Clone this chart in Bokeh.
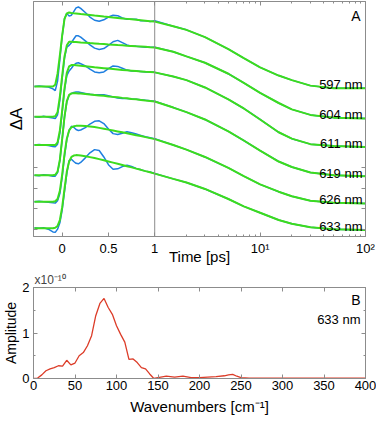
import numpy as np
from bokeh.plotting import figure
from bokeh.layouts import column
from bokeh.models import (Range1d, LinearAxis, FixedTicker, CustomJSTickFormatter,
                          Span, Label)
from bokeh.embed import file_html
from bokeh.resources import INLINE

FONT = "Liberation Sans"
FRAME = "#8c8c8c"
BLUE = "#1e7fe0"
GREEN = "#3cdc1e"
RED = "#dc3c28"

# ---------------- Panel A: kinetic traces (Delta A, arbitrary units) ----------------
time_ps = [-0.3, -0.25, -0.2, -0.15, -0.1, -0.075, -0.05, -0.025, 0.0, 0.025, 0.05,
           0.075, 0.1, 0.125, 0.15, 0.175, 0.2, 0.25, 0.3, 0.35, 0.4, 0.45, 0.5,
           0.55, 0.6, 0.65, 0.7, 0.75, 0.8, 0.85, 0.9, 0.95, 1.0,
           1.5, 2, 3, 5, 7, 10, 15, 20, 30, 50, 100]

probe_labels = ["597 nm", "604 nm", "611 nm", "619 nm", "626 nm", "633 nm"]
trace_offsets = [156, 123, 92, 59, 30, 1]

fit_597 = [0, 0, 0, 0, 0, 2, 14, 34, 56, 74, 80, 81, 80.5, 80.2, 80, 79.7, 79.4, 78.9,
           78.3, 77.7, 77.2, 76.6, 76.1, 75.5, 75, 74.5, 74, 73.5, 73, 72.5, 72, 71.5, 71,
           66, 62, 54, 41, 31, 21, 12, 7, 1, -2, -2]
fit_604 = [0, 0, 0, 0, 0, 0.5, 5, 22, 45, 66, 78, 82, 82, 81.8, 81.6, 81.4, 81.2, 80.9,
           80.5, 80.2, 79.8, 79.5, 79.1, 78.8, 78.4, 78.1, 77.7, 77.4, 77, 76.7, 76.4, 76, 75.7,
           71, 66, 59, 47, 37, 26, 15, 8, 2, -1, -2]
fit_611 = [0, 0, 0, 0, 0, 0, 3, 16, 38, 62, 79, 86, 87.5, 87.5, 87.3, 87.1, 86.8, 86.3,
           85.7, 85.1, 84.6, 84.1, 83.6, 83.1, 82.6, 82.1, 81.7, 81.3, 80.9, 80.5, 80.1, 79.8, 79.5,
           75, 71, 63, 50, 40, 28, 14, 7, 1, -1, -2]
fit_619 = [0, 0, 0, 0, 0, 0.5, 4, 17, 40, 64, 81, 88, 89.5, 89.8, 89.7, 89.5, 89.3, 88.8,
           88.3, 87.8, 87.3, 86.8, 86.2, 85.7, 85.2, 84.6, 84.1, 83.5, 83, 82.4, 81.8, 81.3, 80.7,
           74, 69, 61, 48, 38, 27, 15, 9, 3, 0, -1]
fit_626 = [0, 0, 0, 0, 0, 0.5, 3, 12, 30, 52, 69, 78, 81.5, 82.5, 83, 83, 83, 82.8,
           82.4, 81.7, 80.8, 79.9, 78.9, 77.9, 76.9, 75.9, 74.9, 73.9, 72.8, 71.8, 70.7, 69.6, 68.5,
           62, 57, 49, 37, 28, 19, 11, 6, 1, -1, -2]
fit_633 = [0, 0, 0, 0, 0, 0.5, 2.5, 9, 23, 43, 62, 73, 78, 79.5, 80, 79.8, 79.5, 78.8,
           77.8, 76.8, 75.6, 74.4, 73.1, 71.8, 70.5, 69.2, 67.9, 66.6, 65.2, 63.9, 62.5, 61.2, 59.8,
           54, 50, 43, 32, 24, 17, 9, 5, 1, -1, -2]

# measured data up to 1 ps (beyond it the data lie on the fit)
data_597 = [0, 0.5, 0, -0.5, -2.5, -4.5, 6, 30, 55, 74, 80, 77, 78, 82, 86, 87, 85.5, 81,
            76, 72.5, 71.5, 73, 76, 78, 77.5, 75, 73.5, 73.5, 73.5, 72, 72, 71, 72]
data_604 = [0, -0.5, 0.5, -0.5, -1.5, -2, 2, 18, 42, 64, 76, 78, 81, 85, 88.5, 88.5, 87, 83,
            78.5, 75, 73.5, 74.5, 78, 82, 83.5, 81, 78.5, 77, 77, 76.5, 76, 76, 76]
data_611 = [0, 0.5, 0, -0.5, -1.5, -2, 1, 13, 36, 60, 76, 81, 84, 87.5, 89.5, 90, 89, 86.5,
            83, 80, 79, 80, 83.5, 86.5, 86, 84, 82, 81, 81, 80.5, 80, 80, 79.5]
data_619 = [0, -0.5, 0.5, 0, -1, -1, 3, 16, 39, 63, 80, 87.5, 89.5, 90.5, 91, 91, 90.5, 89.5,
            88.5, 88, 88, 88, 87, 85.5, 84.5, 84, 84, 83.5, 83, 82.5, 82, 81.5, 81]
data_626 = [0, 0.5, 0, -0.5, -1, -1.5, 1, 9, 27, 50, 68, 78, 82.5, 81.5, 79, 78, 78.5, 81,
            85, 88, 88.5, 85.5, 79.5, 74.5, 73.5, 75, 76.5, 75.5, 74, 72.5, 71, 70, 69]
data_633 = [0.5, 0, 0.5, -1, -4, -4.5, -1, 6, 20, 40, 60, 74, 75.5, 73, 71, 70.5, 72, 77,
            82.5, 86, 85, 78, 69.5, 64.5, 65, 67.5, 69, 67.5, 65.5, 64, 62.5, 61.5, 60]

fits = [fit_597, fit_604, fit_611, fit_619, fit_626, fit_633]
datas = [data_597, data_604, data_611, data_619, data_626, data_633]

time_major = [0, 0.5, 1, 10, 100]
time_major_labels = ["0", "0.5", "1", "10\u00b9", "10\u00b2"]
time_minor = [2, 3, 4, 5, 6, 7, 8, 9, 20, 30, 40, 50, 60, 70, 80, 90]
dA_ticks = [0, 22.5, 45, 67.5]

# ---------------- Panel B: Fourier amplitude spectrum at 633 nm ----------------
wavenumber = [0, 5, 10, 15, 20, 25, 30, 35, 40, 45, 50, 55, 60, 65, 70, 75, 80, 85, 90, 95,
              100, 105, 110, 115, 120, 125, 130, 135, 140, 145, 150, 160, 170, 180, 190, 200,
              210, 220, 230, 235, 240, 245, 250, 260, 280, 300, 320, 340, 360, 380, 400]
amplitude = [0, 0.01, 0.08, 0.17, 0.21, 0.24, 0.28, 0.27, 0.40, 0.30, 0.34, 0.50, 0.57, 0.72,
             0.94, 1.38, 1.65, 1.76, 1.56, 1.41, 1.16, 0.97, 0.80, 0.42, 0.43, 0.35, 0.24, 0.21,
             0.10, 0.0, 0.02, 0.05, 0.03, 0.05, 0.02, 0.02, 0.03, 0.04, 0.06, 0.08, 0.09, 0.05,
             0.02, 0.01, 0.01, 0.01, 0.01, 0.01, 0.01, 0.01, 0.01]
wn_ticks = [0, 50, 100, 150, 200, 250, 300, 350, 400]
amp_ticks = [0, 1, 2]
amp_minor = [0.5, 1.5]

# split time axis: linear up to 1 ps, logarithmic beyond
DECADE = 110.5 / 97.0


def split_axis(t):
    t = np.asarray(t, dtype=float)
    return np.where(t <= 1.0, t, 1.0 + DECADE * np.log10(np.clip(t, 1.0, None)))


def label_formatter(pos, labels):
    return CustomJSTickFormatter(args=dict(pos=[float(v) for v in pos], lab=labels), code="""
        for (let i = 0; i < pos.length; i++) {
            if (Math.abs(tick - pos[i]) < 1e-6) { return lab[i]; }
        }
        return "";
    """)


def blank_formatter():
    return CustomJSTickFormatter(code="return '';")


def style_axis(ax, labels=True):
    ax.axis_line_color = FRAME
    ax.major_tick_line_color = FRAME
    ax.minor_tick_line_color = FRAME
    ax.major_tick_in = 4
    ax.major_tick_out = 0
    ax.minor_tick_in = 2
    ax.minor_tick_out = 0
    ax.major_label_text_font = FONT
    ax.major_label_text_color = "black"
    ax.axis_label_text_font = FONT
    ax.axis_label_text_font_style = "normal"
    ax.axis_label_text_color = "black"
    if labels:
        ax.major_label_text_font_size = "13px"
    else:
        ax.major_label_text_font_size = "0px"
        ax.major_label_standoff = 0
        ax.formatter = blank_formatter()


W = 376
ML, MR = 28, 11

# ---------------- figure A ----------------
xA = split_axis(time_ps)
pA = figure(width=W, height=267, output_backend="svg", toolbar_location=None,
            x_range=Range1d(-0.31, float(split_axis(100))), y_range=Range1d(-8, 249),
            min_border_left=ML, min_border_right=MR, min_border_top=1, min_border_bottom=25)
pA.grid.visible = False
pA.outline_line_color = FRAME

tA = FixedTicker(ticks=list(split_axis(time_major)), minor_ticks=list(split_axis(time_minor)))
yA = FixedTicker(ticks=dA_ticks, minor_ticks=[])

ax = pA.xaxis[0]
ax.ticker = tA
ax.formatter = label_formatter(split_axis(time_major), time_major_labels)
style_axis(ax)
ax.major_label_standoff = 4
ax.axis_label = "Time [ps]"
ax.axis_label_text_font_size = "15px"
ax.axis_label_standoff = -11

ay = pA.yaxis[0]
ay.ticker = yA
style_axis(ay, labels=False)
ay.axis_label = "\u0394A"
ay.axis_label_text_font_size = "17px"
ay.axis_label_standoff = 8

top = LinearAxis(ticker=tA)
style_axis(top, labels=False)
pA.add_layout(top, "above")
right = LinearAxis(ticker=yA)
style_axis(right, labels=False)
pA.add_layout(right, "right")

pA.add_layout(Span(location=1.0, dimension="height", line_color=FRAME, line_width=1))

n_early = len(data_597)
for off, fit, dat in zip(trace_offsets, fits, datas):
    yfit = [off + v for v in fit]
    ydat = [off + v for v in dat] + yfit[n_early:]
    pA.line(xA, ydat, line_color=BLUE, line_width=1.5)
for off, fit in zip(trace_offsets, fits):
    pA.line(xA, [off + v for v in fit], line_color=GREEN, line_width=2)

xr = float(split_axis(100))
for off, lbl in zip(trace_offsets, probe_labels):
    pA.add_layout(Label(x=xr, y=off + 2, x_offset=-3, text=lbl, text_align="right",
                        text_baseline="alphabetic", text_font=FONT, text_font_size="13px",
                        text_color="black"))
pA.add_layout(Label(x=xr, y=249, x_offset=-5, y_offset=-6, text="A", text_align="right",
                    text_baseline="top", text_font=FONT, text_font_size="14px",
                    text_color="black"))

# ---------------- figure B ----------------
pB = figure(width=W, height=150, output_backend="svg", toolbar_location=None,
            x_range=Range1d(0, 400), y_range=Range1d(0, 2), title="x10\u207b\u00b9\u2070",
            min_border_left=ML, min_border_right=MR, min_border_top=20, min_border_bottom=39)
pB.grid.visible = False
pB.outline_line_color = FRAME
pB.title.text_font = FONT
pB.title.text_font_size = "12px"
pB.title.text_font_style = "normal"
pB.title.align = "left"
pB.title.standoff = 1
pB.title.offset = 1

tB = FixedTicker(ticks=wn_ticks, minor_ticks=[])
yB = FixedTicker(ticks=amp_ticks, minor_ticks=amp_minor)

bx = pB.xaxis[0]
bx.ticker = tB
style_axis(bx)
bx.major_label_standoff = 2
bx.axis_label = "Wavenumbers [cm\u207b\u00b9]"
bx.axis_label_text_font_size = "15px"
bx.axis_label_standoff = 5

by = pB.yaxis[0]
by.ticker = yB
style_axis(by)
by.major_label_standoff = 4
by.axis_label = "Amplitude"
by.axis_label_text_font_size = "14px"
by.axis_label_standoff = 0

topB = LinearAxis(ticker=tB)
style_axis(topB, labels=False)
pB.add_layout(topB, "above")
rightB = LinearAxis(ticker=yB)
style_axis(rightB, labels=False)
pB.add_layout(rightB, "right")

pB.line(wavenumber, amplitude, line_color=RED, line_width=1.3)

pB.add_layout(Label(x=400, y=2, x_offset=-5, y_offset=-4, text="B", text_align="right",
                    text_baseline="top", text_font=FONT, text_font_size="14px",
                    text_color="black"))
pB.add_layout(Label(x=400, y=2, x_offset=-5, y_offset=-24, text="633 nm", text_align="right",
                    text_baseline="top", text_font=FONT, text_font_size="13px",
                    text_color="black"))

layout = column(pA, pB, spacing=0)
open("out.html", "w").write(file_html(layout, INLINE))
